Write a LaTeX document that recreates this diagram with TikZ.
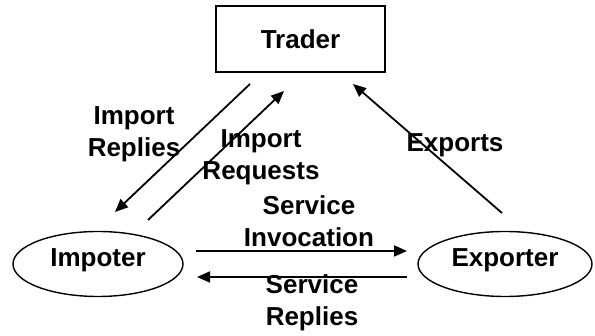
\documentclass[tikz,border=0pt]{standalone}
\usepackage{fontspec}
\setmainfont{Liberation Sans}
\usetikzlibrary{shapes.geometric,arrows.meta}
\begin{document}
\begin{tikzpicture}[x=1pt,y=1pt,
  every node/.style={font=\bfseries\fontsize{26}{32}\selectfont},
  lbl/.style={align=center,inner sep=0pt},
  box/.style={draw,line width=1.6pt,minimum width=169pt,minimum height=66pt,inner sep=0pt},
  oval/.style={draw,ellipse,line width=1.4pt,inner sep=0pt},
  conn/.style={line width=1.8pt,-{Triangle[length=13pt,width=11pt]}}]
\useasboundingbox (0,0) rectangle (595,336);
\node[box] (trader) at (300.5,297) {Trader};
\node[oval,minimum width=170pt,minimum height=65pt] (imp) at (98,72) {};
\node at (98,76) {Impoter};
\node[oval,minimum width=174pt,minimum height=65pt] (exp) at (505,72) {};
\node at (505,76) {Exporter};
\coordinate (a1) at (250,252); \coordinate (a2) at (115,124);
\coordinate (b1) at (148,116); \coordinate (b2) at (284,245);
\coordinate (c1) at (502,123); \coordinate (c2) at (353,252);
\coordinate (d1) at (196,85);  \coordinate (d2) at (407,85);
\coordinate (e1) at (407,59);  \coordinate (e2) at (197,59);
\draw[conn] (a1) -- (a2);
\draw[conn] (b1) -- (b2);
\draw[conn] (c1) -- (c2);
\draw[conn] (d1) -- (d2);
\draw[conn] (e1) -- (e2);
\node[lbl] (lir) at (134,202) {Import\\Replies};
\node[lbl] (liq) at (261,179) {Import\\Requests};
\node[lbl] (lex) at (455,191) {Exports};
\node[lbl] (lsi) at (309,114.5) {Service\\Invocation};
\node[lbl] (lsr) at (312,33) {Service\\Replies};
\end{tikzpicture}
\end{document}
